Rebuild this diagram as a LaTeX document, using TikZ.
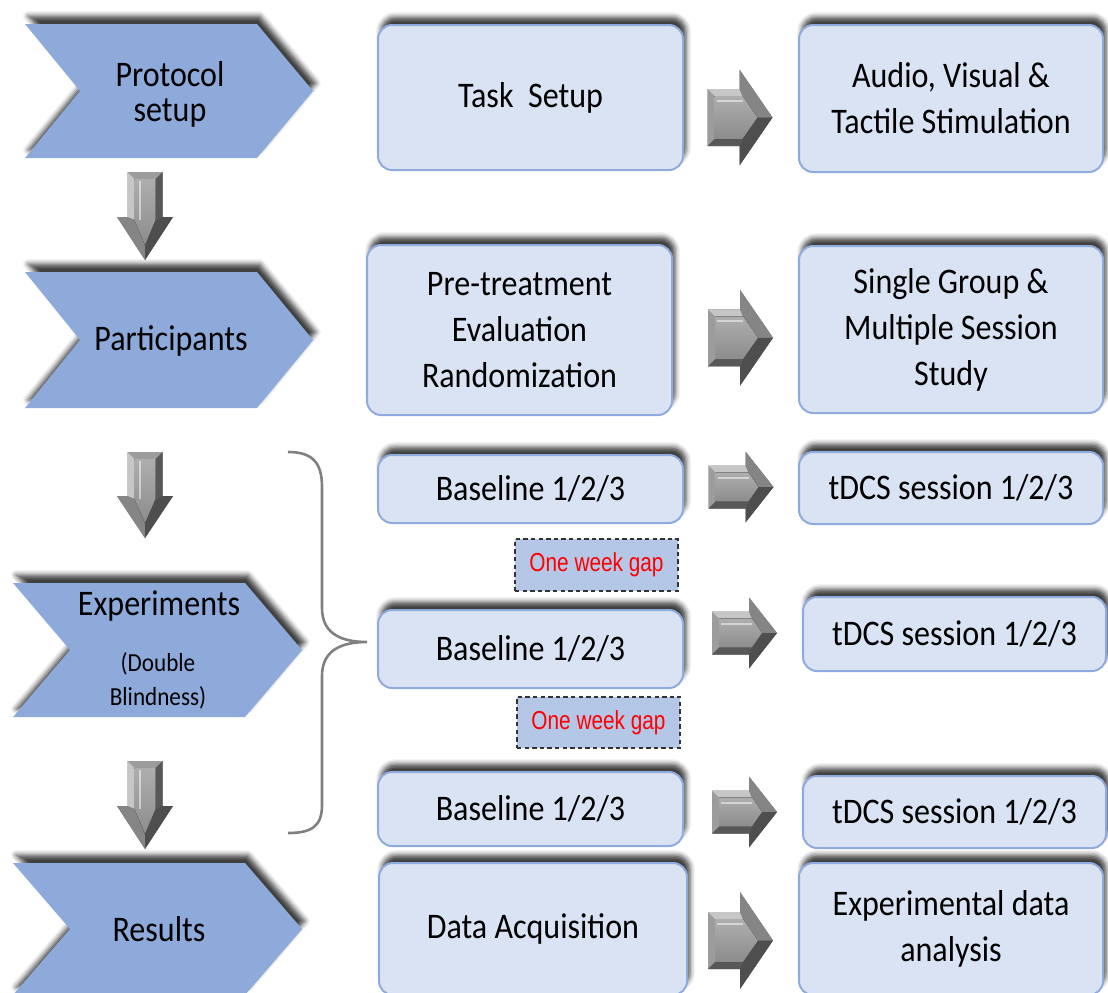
\documentclass[tikz,border=0pt]{standalone}
\usepackage{fontspec}
\setmainfont{Carlito}[FakeStretch=0.89]
\newfontfamily\gapfont{Liberation Sans}[FakeStretch=0.8]
\usetikzlibrary{shadows.blur,calc}

\definecolor{chevfill}{HTML}{8EAADB}
\definecolor{boxfill}{HTML}{DAE3F3}
\definecolor{boxline}{HTML}{8FAADC}
\definecolor{gapfill}{HTML}{B4C7E7}
\definecolor{bracegray}{HTML}{808080}
\definecolor{arrowbase}{HTML}{707070}
\definecolor{arrowtop}{HTML}{C6C6C6}
\definecolor{arrowleft}{HTML}{9C9C9C}
\definecolor{arrowheadup}{HTML}{858585}
\definecolor{arrowheaddown}{HTML}{4E4E4E}
\definecolor{arrowbottom}{HTML}{585858}
\definecolor{facetop}{HTML}{AEAEAE}
\definecolor{facebottom}{HTML}{8C8C8C}

\tikzset{
  softshadow/.style={blur shadow={shadow xshift=1.5pt,shadow yshift=4pt,shadow blur radius=2.5pt,shadow opacity=75}},
  chevron/.style={fill=chevfill, softshadow},
  stagebox/.style={draw=boxline, fill=boxfill, line width=1pt, rounded corners=7pt,
    softshadow, align=center, inner sep=0pt, font=\fontsize{18}{23}\selectfont},
  chevtext/.style={align=center, inner sep=0pt, font=\fontsize{18}{17.5}\selectfont},
  subtext/.style={align=center, inner sep=0pt, font=\fontsize{13}{17}\selectfont},
  gapbox/.style={draw=black!80, dash pattern=on 2.2pt off 1.6pt, fill=gapfill, line width=0.8pt,
    minimum width=81.5pt, minimum height=25.75pt, inner sep=0pt,
    font=\gapfont\fontsize{13}{15}\selectfont, text=red},
  % bevelled block arrow pointing along +x: length / shaft length / shaft half-height / head half-height
  pics/blockarrow/.style args={#1/#2/#3/#4}{code={
    \pgfmathsetmacro\bxa{-(#1)/2}
    \pgfmathsetmacro\bxb{-(#1)/2+#2}
    \pgfmathsetmacro\bxc{(#1)/2}
    \pgfmathsetmacro\bxai{\bxa+7}
    \pgfmathsetmacro\bxbi{\bxb+3}
    \pgfmathsetmacro\bxci{\bxc-15}
    \pgfmathsetmacro\bya{#3}
    \pgfmathsetmacro\byai{#3-7}
    \pgfmathsetmacro\byb{#4}
    \fill[arrowbase] (\bxa,-\bya) -- (\bxb,-\bya) -- (\bxb,-\byb) -- (\bxc,0) -- (\bxb,\byb) -- (\bxb,\bya) -- (\bxa,\bya) -- cycle;
    \fill[arrowleft] (\bxa,-\bya) -- (\bxai,-\byai) -- (\bxai,\byai) -- (\bxa,\bya) -- cycle;
    \fill[arrowtop] (\bxa,-\bya) -- (\bxb,-\bya) -- (\bxbi,-\byai) -- (\bxai,-\byai) -- cycle;
    \fill[arrowheadup] (\bxb,-\bya) -- (\bxb,-\byb) -- (\bxc,0) -- (\bxci,0) -- (\bxbi,-\byai) -- cycle;
    \fill[arrowheaddown] (\bxc,0) -- (\bxb,\byb) -- (\bxb,\bya) -- (\bxbi,\byai) -- (\bxci,0) -- cycle;
    \fill[arrowbottom] (\bxa,\bya) -- (\bxai,\byai) -- (\bxbi,\byai) -- (\bxb,\bya) -- cycle;
    \fill[top color=facetop, bottom color=facebottom] (\bxai,-\byai) -- (\bxbi,-\byai) -- (\bxci,0) -- (\bxbi,\byai) -- (\bxai,\byai) -- cycle;
    \draw[white, opacity=.5, line width=1pt] (\bxai+2,-\byai+5) -- (\bxbi,-\byai+5);
  }},
}

\begin{document}
\begin{tikzpicture}[x=0.5pt,y=-0.5pt]
\useasboundingbox (0,0) rectangle (1108,992);
\clip (0,0) rectangle (1108,992);

% ---- stage chevrons (left column)
\fill[chevron] (25,24) -- (257,24) -- (313,91) -- (257,158) -- (25,158) -- (80,91) -- cycle;
\fill[chevron] (25,272) -- (257,272) -- (313,340) -- (257,408) -- (25,408) -- (80,340) -- cycle;
\fill[chevron] (13,583) -- (245,583) -- (302,650) -- (245,717) -- (13,717) -- (70,650) -- cycle;
\fill[chevron] (13,863) -- (245,863) -- (302,929) -- (245,995) -- (13,995) -- (70,929) -- cycle;

\node[chevtext] (protocol) at (170,94) {Protocol\\setup};
\node[chevtext] (participants) at (171,341) {Participants};
\node[chevtext] (experiments) at (159,606) {Experiments};
\node[subtext] (blind) at (158,681) {(Double\\Blindness)};
\node[chevtext] (results) at (159,929) {Results};

% ---- downward arrows between stages
\pic[rotate=-90, yscale=-1] at (145,216) {blockarrow=88/45/17.5/28};
\pic[rotate=-90, yscale=-1] at (145,495) {blockarrow=86/44/17.5/28};
\pic[rotate=-90, yscale=-1] at (145,805) {blockarrow=88/45/17.5/28};

% ---- middle column
\node[stagebox, minimum width=152.5pt, minimum height=72.5pt] (task) at (530.5,97.5) {Task~~Setup};
\node[stagebox, minimum width=152.5pt, minimum height=85pt] (pre) at (519.5,330) {Pre-treatment\\Evaluation\\Randomization};
\node[stagebox, minimum width=152.5pt, minimum height=34pt] (base1) at (530.5,489) {Baseline 1/2/3};
\node[stagebox, minimum width=152.5pt, minimum height=39pt] (base2) at (530.5,649) {Baseline 1/2/3};
\node[stagebox, minimum width=152.5pt, minimum height=37pt] (base3) at (530.5,809) {Baseline 1/2/3};
\node[stagebox, minimum width=154pt, minimum height=66pt] (data) at (533,929) {Data Acquisition};

% ---- right column
\node[stagebox, minimum width=152pt, minimum height=73.5pt] (audio) at (951,98.5) {Audio, Visual \&\\Tactile Stimulation};
\node[stagebox, minimum width=152pt, minimum height=83.5pt] (single) at (951,329.5) {Single Group \&\\Multiple Session\\Study};
\node[stagebox, minimum width=152pt, minimum height=36pt] (tdcs1) at (951,488) {tDCS session 1/2/3};
\node[stagebox, minimum width=151.5pt, minimum height=37pt] (tdcs2) at (954.5,634) {tDCS session 1/2/3};
\node[stagebox, minimum width=151.5pt, minimum height=36pt] (tdcs3) at (954.5,812) {tDCS session 1/2/3};
\node[stagebox, minimum width=152pt, minimum height=66pt] (exp) at (951,929) {Experimental data\\analysis};

% ---- gaps between sessions
\node[gapbox] (gap1) at (596.5,565) {One week gap};
\node[gapbox] (gap2) at (598.5,722.5) {One week gap};

% ---- block arrows between the columns
\pic at ($(task.east)!0.5!(audio.west)+(-1,19.5)$) {blockarrow=65/32/28.5/48};
\pic at ($(pre.east)!0.5!(single.west)+(5,8)$) {blockarrow=65/32/28.5/48};
\pic at ($(base1.east)!0.5!(tdcs1.west)+(0,-1.5)$) {blockarrow=65/37/21.5/35.5};
\pic at (744.5,633) {blockarrow=65/37/21.5/35.5};
\pic at (744.5,812) {blockarrow=65/37/21.5/35.5};
\pic at ($(data.east)!0.5!(exp.west)+(-2.5,11.5)$) {blockarrow=65/32/28.5/48.5};

% ---- brace grouping the three sessions
\coordinate (bracetip) at (367,642);
\draw[bracegray, line width=1.3pt]
  (288,452) .. controls (312,452) and (322,462) .. (322,487)
  -- (322,608) .. controls (322,630) and (336,642) .. (bracetip)
  .. controls (336,642) and (322,654) .. (322,676)
  -- (322,805) .. controls (322,826) and (312,833) .. (288,833);
\end{tikzpicture}
\end{document}
